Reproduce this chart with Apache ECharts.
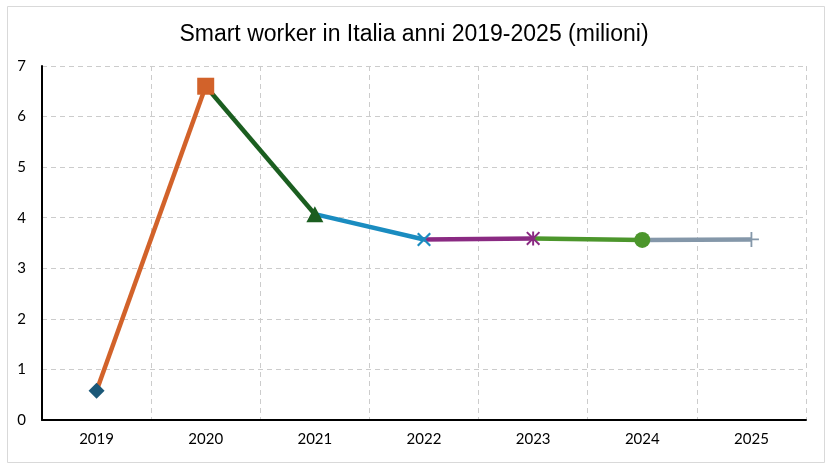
<!DOCTYPE html>
<html>
<head>
<meta charset="utf-8">
<script src="https://cdn.jsdelivr.net/npm/echarts@6/dist/echarts.min.js"></script>
<style>html,body{margin:0;padding:0;background:#fff}#c{width:828px;height:468px}</style>
</head>
<body>
<div id="c"></div>
<script>
const titleText = 'Smart worker in Italia anni 2019-2025 (milioni)';
const years = ['2019','2020','2021','2022','2023','2024','2025'];
const values = [0.58, 6.6, 4.07, 3.57, 3.59, 3.56, 3.57];
const yTicks = [0,1,2,3,4,5,6,7];
const segmentColors = ['#D2622A','#1B5E20','#1A8CC0','#8A2A82','#4C962C','#8497A9'];
const markerColors = ['#1B5878','#D2622A','#1B5E20','#1A8CC0','#8A2A82','#4C962C','#8497A9'];

const P_X = 'path://M0,11 L11,0 L50,39 L89,0 L100,11 L61,50 L100,89 L89,100 L50,61 L11,100 L0,89 L39,50 Z';
const P_AST = 'path://M0,10 L10,0 L50,40 L90,0 L100,10 L60,50 L100,90 L90,100 L50,60 L10,100 L0,90 L40,50 Z M43,0 L57,0 L57,100 L43,100 Z';
const P_PLUS = 'path://M44,0 L56,0 L56,44 L100,44 L100,56 L56,56 L56,100 L44,100 L44,56 L0,56 L0,44 L44,44 Z';
const markerSymbols = ['diamond','rect','triangle',P_X,P_AST,'circle',P_PLUS];
const markerSizes = [[16,16],[17,17],[17,16],[14,14],[14,14],[16,16],[15,15]];

const series = [];
for (let i = 0; i < values.length - 1; i++) {
  const d = years.map((y, j) => (j === i || j === i + 1) ? values[j] : null);
  series.push({
    type: 'line', data: d, showSymbol: false, connectNulls: false,
    lineStyle: { color: segmentColors[i], width: 4.5 }, z: 2, silent: true
  });
}
series.push({
  type: 'scatter', z: 5, silent: true,
  data: values.map((v, j) => ({
    value: [years[j], v],
    symbol: markerSymbols[j],
    symbolSize: markerSizes[j],
    itemStyle: { color: markerColors[j], opacity: 1 }
  }))
});

const chart = echarts.init(document.getElementById('c'), null, { renderer: 'canvas' });
chart.setOption({
  animation: false,
  backgroundColor: '#fff',
  title: {
    text: titleText, left: 'center', top: 18,
    textStyle: { fontFamily: 'Liberation Sans, Arial', fontSize: 23, fontWeight: 'normal', color: '#000' }
  },
  graphic: [{
    type: 'rect', shape: { x: 7.5, y: 6.5, width: 817, height: 456 },
    style: { fill: 'none', stroke: '#d9d9d9', lineWidth: 1 }, z: -1
  }],
  grid: { left: 42, right: 22, top: 66, bottom: 48, containLabel: false },
  xAxis: {
    type: 'category', data: years, boundaryGap: true,
    axisLine: { lineStyle: { color: '#000', width: 2 } },
    axisTick: { show: false },
    axisLabel: { fontFamily: 'Lato, Carlito, sans-serif', fontSize: 15, color: '#000', margin: 12 },
    splitLine: { show: true, lineStyle: { color: '#cccccc', type: [5, 4], width: 1 } }
  },
  yAxis: {
    type: 'value', min: yTicks[0], max: yTicks[yTicks.length - 1], interval: 1,
    axisLine: { show: true, lineStyle: { color: '#000', width: 2 } },
    axisTick: { show: false },
    axisLabel: { fontFamily: 'Lato, Carlito, sans-serif', fontSize: 15, color: '#000', margin: 16 },
    splitLine: { show: true, lineStyle: { color: '#cccccc', type: [5, 4], width: 1 } }
  },
  series: series
});
</script>
</body>
</html>
